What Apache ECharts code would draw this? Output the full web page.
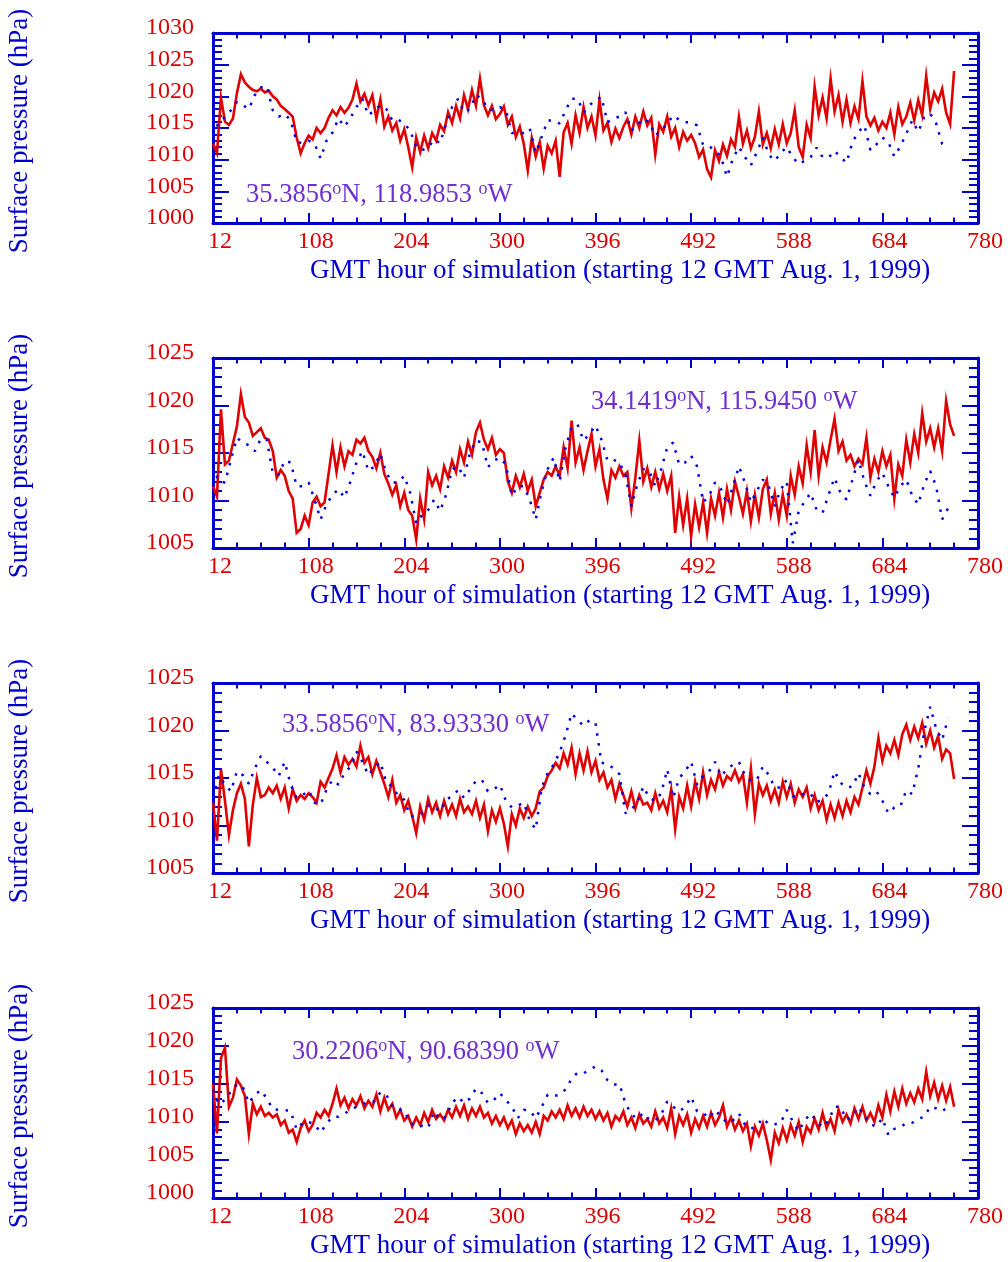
<!DOCTYPE html>
<html>
<head>
<meta charset="utf-8">
<script src="https://cdn.jsdelivr.net/npm/echarts@6/dist/echarts.min.js"></script>
<style>
  html, body { margin: 0; padding: 0; background: #ffffff; }
  #chart { width: 1008px; height: 1262px; }
</style>
</head>
<body>
<div id="chart"></div>
<script>
// Hourly simulation axis: first sample at 12 GMT, observed every 4 h, modelled every 6 h
const START_HOUR = 12;
const END_HOUR = 780;
const HOUR_TICK = 96;
const OBS_STEP = 4;
const MODEL_STEP = 6;

// Station coordinates shown inside each panel
const stationLat = ['35.3856', '34.1419', '33.5856', '30.2206'];
const stationLon = ['118.9853', '115.9450', '83.93330', '90.68390'];

// Pressure range of each panel (hPa)
const yMin = [1000, 1005, 1005, 1000];
const yMax = [1030, 1025, 1025, 1025];

// Observed surface pressure (hPa), 12 GMT onward every 4 h
const obs1 = [
  1012.5, 1011.0, 1019.8, 1016.0, 1015.5, 1016.5, 1020.5, 1023.5, 1022.2, 1021.5,
  1021.0, 1020.8, 1021.2, 1020.6, 1020.9, 1020.0, 1019.5, 1018.5, 1018.0, 1017.4,
  1016.8, 1013.5, 1011.0, 1012.6, 1013.8, 1013.2, 1015.0, 1014.2, 1015.0, 1016.6,
  1017.8, 1017.0, 1018.3, 1017.4, 1018.2, 1019.5, 1022.0, 1019.2, 1020.4, 1018.6,
  1020.2, 1016.5, 1019.5, 1015.2, 1016.8, 1014.6, 1015.8, 1013.0, 1014.8, 1012.0,
  1008.8, 1013.5, 1011.2, 1013.8, 1011.8, 1014.2, 1013.0, 1015.5, 1014.5, 1017.5,
  1015.8, 1018.5, 1016.5, 1020.2, 1018.0, 1021.0, 1018.5, 1022.8, 1018.6, 1017.0,
  1018.5, 1016.4, 1017.2, 1018.4, 1015.5, 1016.8, 1013.6, 1015.2, 1012.5, 1008.3,
  1013.4, 1010.5, 1012.8, 1008.6, 1012.2, 1011.0, 1013.0, 1007.3, 1014.3, 1015.8,
  1012.5, 1017.0, 1014.2, 1018.3, 1015.0, 1016.8, 1013.8, 1019.4, 1014.6, 1015.8,
  1012.8, 1014.9, 1013.4, 1015.2, 1016.4, 1014.0, 1016.8, 1015.0, 1017.6, 1015.4,
  1016.6, 1010.8, 1015.6, 1014.4, 1016.8, 1013.6, 1015.0, 1012.0, 1014.4, 1013.0,
  1013.9, 1012.6, 1010.4, 1011.6, 1008.5, 1007.2, 1011.5, 1009.8, 1012.4, 1010.6,
  1013.2, 1012.0, 1016.8, 1012.5, 1014.6, 1011.8, 1013.6, 1017.6, 1012.4, 1014.2,
  1011.8, 1014.8, 1012.4, 1015.6, 1012.6, 1014.2, 1017.8, 1012.0, 1010.4, 1015.5,
  1013.4, 1021.5, 1017.0, 1019.8, 1016.5, 1022.8, 1017.6, 1020.2, 1016.0, 1019.5,
  1015.8, 1018.4, 1016.4, 1022.4, 1016.8, 1015.4, 1016.6, 1014.6, 1016.0, 1015.0,
  1017.4, 1014.0, 1018.3, 1015.6, 1016.8, 1019.0, 1016.2, 1019.4, 1017.0, 1023.2,
  1018.0, 1020.6, 1019.2, 1021.2, 1017.4, 1015.6, 1024.0
];
const obs2 = [
  1011.5, 1010.4, 1019.6, 1013.8, 1014.2, 1016.0, 1017.8, 1021.2, 1018.8, 1018.2,
  1016.8, 1017.2, 1017.6, 1016.6, 1016.4, 1015.2, 1012.4, 1013.2, 1012.6, 1011.0,
  1010.2, 1006.6, 1007.0, 1008.4, 1007.4, 1009.8, 1010.4, 1009.4, 1009.8, 1012.8,
  1015.8, 1013.0, 1015.6, 1013.6, 1015.2, 1014.8, 1016.4, 1016.0, 1016.6, 1015.2,
  1014.6, 1013.4, 1015.0, 1012.8, 1011.8, 1010.6, 1011.6, 1009.4, 1010.8, 1009.0,
  1008.4, 1005.9, 1010.2, 1008.0, 1013.0, 1011.6, 1012.6, 1011.2, 1013.6, 1012.4,
  1014.2, 1013.0, 1015.4, 1014.0, 1016.2, 1014.8, 1017.2, 1018.2, 1016.4, 1015.4,
  1016.6, 1014.8, 1015.4, 1015.0, 1012.0, 1010.8, 1012.6, 1011.4, 1012.8, 1011.0,
  1012.2, 1009.4, 1010.8, 1012.2, 1013.0, 1012.6, 1013.6, 1012.6, 1015.6, 1013.4,
  1018.4, 1014.0, 1015.6, 1013.2, 1015.2, 1017.0, 1013.6, 1015.4, 1012.2, 1010.2,
  1013.2, 1012.4, 1013.6, 1012.6, 1013.0, 1009.2, 1012.4, 1016.3, 1012.0, 1013.4,
  1011.4, 1013.0, 1011.2, 1012.8, 1011.0, 1012.6, 1006.6, 1010.4, 1007.4, 1010.2,
  1006.2, 1009.6, 1007.2, 1009.8, 1006.6, 1010.2, 1008.4, 1010.8, 1008.2, 1011.2,
  1009.0, 1012.0, 1010.4, 1008.6, 1011.0, 1007.8, 1010.6, 1008.2, 1011.2, 1012.2,
  1008.6, 1010.8, 1008.0, 1010.6, 1008.4, 1012.6, 1010.6, 1013.6, 1011.8, 1015.8,
  1013.0, 1017.4, 1012.6, 1015.6, 1014.0, 1016.4, 1018.6, 1015.2, 1016.2, 1014.2,
  1014.8, 1013.6, 1014.4, 1013.8, 1016.6, 1012.4, 1014.4, 1013.0, 1015.2, 1013.6,
  1014.8, 1010.2, 1013.8, 1012.6, 1016.4, 1014.0, 1017.0, 1015.0, 1019.2, 1016.2,
  1017.6, 1015.6, 1017.6, 1015.2, 1020.5, 1018.0, 1016.8
];
const obs3 = [
  1012.4, 1008.4, 1015.9, 1012.6, 1009.0, 1011.6, 1013.4, 1014.4, 1012.8, 1007.8,
  1012.2, 1015.0, 1013.0, 1013.2, 1014.0, 1013.4, 1014.2, 1012.8, 1014.0, 1011.8,
  1013.8, 1012.6, 1013.2, 1012.8, 1013.4, 1013.0, 1012.4, 1014.6, 1014.0, 1015.0,
  1016.0, 1017.4, 1015.6, 1017.2, 1016.4, 1017.0, 1016.2, 1018.4, 1016.6, 1017.2,
  1015.4, 1016.8, 1015.6, 1014.4, 1013.0, 1014.8, 1012.4, 1013.2, 1011.6, 1012.6,
  1011.0, 1009.2, 1012.0, 1010.6, 1012.8, 1011.4, 1012.4, 1011.0, 1012.6, 1011.2,
  1012.2, 1011.0, 1012.8, 1011.4, 1012.0, 1011.2, 1012.6, 1010.8, 1012.2, 1009.4,
  1011.6, 1010.4, 1011.8, 1010.2, 1007.8, 1011.2, 1010.0, 1011.8, 1010.8, 1012.0,
  1011.0, 1011.8, 1013.6, 1014.0, 1015.2, 1015.8, 1016.6, 1016.0, 1017.6, 1016.4,
  1018.2, 1015.4, 1017.6, 1015.8, 1017.8, 1015.6, 1016.8, 1014.8, 1015.6, 1014.0,
  1014.8, 1012.8, 1014.4, 1013.2, 1012.0, 1013.6, 1011.8, 1013.2, 1012.2, 1012.4,
  1011.6, 1013.4, 1011.8, 1012.6, 1011.4, 1013.8, 1009.6, 1013.0, 1011.8, 1014.2,
  1012.0, 1014.6, 1012.8, 1015.6, 1013.2, 1014.8, 1013.8, 1015.6, 1014.2, 1015.2,
  1014.8, 1015.8, 1014.6, 1015.4, 1012.4, 1016.0, 1011.2, 1014.4, 1013.2, 1014.2,
  1012.6, 1013.8, 1012.4, 1014.6, 1013.0, 1014.4, 1012.4, 1013.8, 1013.0, 1014.0,
  1011.8, 1013.2, 1011.6, 1012.6, 1010.6, 1012.2, 1010.8, 1012.4, 1011.0, 1012.6,
  1011.4, 1013.0, 1012.2, 1014.0, 1015.8, 1014.4, 1016.2, 1019.2, 1016.8, 1018.4,
  1017.6, 1019.0, 1017.4, 1019.6, 1020.6, 1019.0, 1020.4, 1019.2, 1020.8, 1018.6,
  1020.0, 1018.2, 1019.4, 1017.0, 1018.0, 1017.6, 1014.9
];
const obs4 = [
  1015.0, 1008.5, 1018.4, 1019.8, 1012.0, 1013.2, 1015.6, 1014.8, 1013.4, 1008.4,
  1012.4, 1011.0, 1012.0, 1010.8, 1011.2, 1010.6, 1011.0, 1009.6, 1010.2, 1008.6,
  1009.0, 1007.4, 1009.2, 1010.2, 1008.8, 1009.6, 1011.2, 1010.6, 1011.6, 1010.8,
  1012.4, 1014.4, 1012.2, 1013.2, 1011.8, 1013.0, 1012.2, 1013.4, 1011.8, 1012.8,
  1012.0, 1013.6, 1011.4, 1013.2, 1011.6, 1012.4, 1010.6, 1011.6, 1010.2, 1010.8,
  1009.4, 1010.6, 1009.6, 1011.2, 1010.0, 1011.6, 1010.4, 1011.0, 1010.2, 1011.6,
  1010.6, 1012.0, 1010.8, 1012.2, 1010.4, 1011.8, 1010.8, 1012.0, 1010.6, 1011.2,
  1009.8, 1010.8, 1009.6, 1010.6, 1009.2, 1010.2, 1008.4, 1009.8, 1008.8, 1009.6,
  1008.6, 1010.0, 1008.4, 1010.8, 1010.2, 1011.4, 1010.6, 1011.6, 1010.4, 1012.2,
  1010.8, 1011.8, 1010.6, 1012.0, 1010.8, 1011.6, 1010.4, 1011.4, 1010.2, 1011.2,
  1009.4, 1010.8, 1010.2, 1011.4, 1009.6, 1010.6, 1009.2, 1011.0, 1009.8, 1010.4,
  1009.4, 1011.4, 1009.8, 1010.6, 1009.2, 1011.8, 1008.4, 1010.8, 1009.6, 1011.0,
  1008.6, 1010.4, 1009.2, 1010.8, 1009.4, 1011.2, 1009.6, 1010.6, 1012.2, 1009.4,
  1010.6, 1009.0, 1010.2, 1008.8, 1009.8, 1006.8, 1009.4, 1008.2, 1009.8, 1007.6,
  1005.0, 1008.6, 1007.2, 1009.2, 1007.6, 1009.6, 1008.2, 1010.0, 1007.4, 1009.4,
  1008.6, 1010.4, 1009.0, 1011.2, 1009.2, 1010.4, 1008.8, 1011.6, 1010.0, 1011.0,
  1009.8, 1011.8, 1010.4, 1012.0, 1010.2, 1011.2, 1010.0, 1012.2, 1010.6, 1013.6,
  1011.4, 1014.0, 1012.0, 1014.4, 1012.4, 1013.8, 1012.6, 1014.4, 1013.0, 1016.6,
  1013.4, 1015.2, 1013.0, 1014.8, 1012.8, 1014.6, 1012.0
];

// Simulated surface pressure (hPa), 12 GMT onward every 6 h
const model1 = [
  1013.8, 1016.0, 1016.7, 1017.8, 1019.1, 1018.6, 1018.0, 1020.2, 1021.4, 1021.6,
  1017.8, 1016.8, 1017.2, 1016.2, 1012.8, 1012.6, 1013.0, 1012.5, 1010.2, 1013.0,
  1014.3, 1016.5, 1015.2, 1016.6, 1018.3, 1019.6, 1017.0, 1017.8, 1018.6, 1018.0,
  1016.2, 1016.3, 1015.7, 1014.6, 1012.0, 1011.5, 1011.9, 1013.2, 1012.6, 1015.7,
  1018.3, 1019.6, 1017.5, 1018.0, 1020.2, 1019.6, 1018.0, 1017.8, 1018.3, 1017.8,
  1014.2, 1014.2, 1014.2, 1014.9, 1011.1, 1013.6, 1016.2, 1016.2, 1015.7, 1017.8,
  1019.6, 1019.6, 1017.5, 1018.6, 1019.4, 1019.9, 1015.9, 1016.5, 1016.8, 1017.5,
  1014.6, 1015.4, 1016.5, 1015.9, 1013.8, 1014.6, 1015.7, 1017.0, 1016.3, 1015.9,
  1015.9, 1015.4, 1012.3, 1012.1, 1011.5, 1010.4, 1007.3, 1010.2, 1012.0, 1010.4,
  1009.1, 1011.2, 1013.5, 1010.8, 1009.8, 1011.1, 1012.0, 1010.4, 1009.3, 1009.8,
  1010.4, 1011.9, 1010.4, 1010.3, 1011.4, 1010.4, 1009.5, 1012.8, 1014.4, 1015.4,
  1011.5, 1012.4, 1013.5, 1012.8, 1010.5, 1012.1, 1014.1, 1016.2, 1014.4, 1016.7,
  1017.3, 1015.7, 1012.5, 1011.9
];
const model2 = [
  1013.6, 1012.0, 1011.9, 1014.3, 1016.6, 1016.1, 1015.8, 1015.2, 1016.5, 1016.4,
  1012.9, 1012.7, 1014.2, 1014.0, 1011.5, 1011.5, 1011.9, 1010.1, 1008.0, 1009.6,
  1010.6, 1011.2, 1010.3, 1012.0, 1014.0, 1015.2, 1013.1, 1013.6, 1014.9, 1012.9,
  1011.9, 1011.9, 1012.6, 1010.8, 1007.6, 1008.5, 1009.0, 1010.1, 1008.9, 1010.6,
  1013.3, 1013.6, 1012.4, 1015.0, 1016.3, 1016.1, 1013.5, 1014.2, 1014.5, 1013.8,
  1010.5, 1011.5, 1011.5, 1010.1, 1008.0, 1011.0, 1013.3, 1014.5, 1012.0, 1015.6,
  1017.7, 1018.0, 1016.3, 1017.0, 1017.9, 1016.4, 1014.2, 1014.3, 1014.0, 1012.7,
  1009.4, 1011.7, 1013.3, 1013.1, 1011.5, 1013.3, 1015.6, 1016.1, 1013.8, 1014.0,
  1014.7, 1013.6, 1009.8, 1010.5, 1011.9, 1011.2, 1009.6, 1011.5, 1013.6, 1011.9,
  1009.8, 1011.0, 1012.2, 1011.5, 1009.4, 1011.2, 1012.0, 1005.5, 1008.9, 1009.9,
  1010.8, 1009.0, 1008.7, 1010.6, 1012.4, 1010.8, 1010.1, 1012.2, 1014.3, 1012.0,
  1010.5, 1012.0, 1012.9, 1011.5, 1010.3, 1011.5, 1012.2, 1010.5, 1009.6, 1011.7,
  1013.1, 1011.5, 1008.0, 1009.2
];
const model3 = [
  1012.9, 1015.3, 1014.3, 1013.6, 1015.7, 1015.3, 1014.4, 1016.0, 1017.3, 1016.7,
  1016.1, 1015.2, 1016.7, 1014.3, 1012.9, 1013.2, 1013.7, 1012.4, 1012.2, 1013.8,
  1014.8, 1014.3, 1015.5, 1016.2, 1017.8, 1016.7, 1015.3, 1016.1, 1016.7, 1014.5,
  1014.1, 1013.1, 1012.7, 1011.0, 1011.0, 1011.3, 1012.1, 1011.9, 1011.5, 1012.7,
  1013.1, 1013.7, 1012.9, 1013.8, 1014.7, 1014.8, 1013.6, 1013.8, 1014.3, 1012.6,
  1011.9, 1012.1, 1012.4, 1010.5, 1009.6, 1014.0, 1015.5, 1016.4, 1017.7, 1019.5,
  1021.8, 1021.1, 1020.5, 1021.1, 1020.8, 1016.6, 1016.5, 1016.0, 1015.4, 1011.3,
  1011.7, 1012.4, 1014.1, 1012.9, 1012.6, 1013.4, 1015.9, 1012.9, 1015.0, 1015.7,
  1016.7, 1014.3, 1015.2, 1015.7, 1016.7, 1015.2, 1015.9, 1016.4, 1016.7, 1015.3,
  1014.7, 1014.8, 1016.2, 1015.3, 1014.0, 1014.0, 1014.8, 1013.1, 1013.0, 1013.4,
  1013.3, 1012.5, 1012.7, 1013.4, 1015.7, 1014.5, 1014.0, 1014.1, 1015.5, 1014.0,
  1013.3, 1013.6, 1012.6, 1011.3, 1011.9, 1012.0, 1013.7, 1013.3, 1016.0, 1019.9,
  1022.5, 1020.2, 1019.0, 1021.3
];
const model4 = [
  1014.2, 1012.3, 1012.9, 1014.0, 1015.0, 1014.6, 1012.5, 1013.6, 1014.2, 1013.1,
  1011.7, 1011.6, 1011.6, 1011.4, 1009.0, 1009.9, 1010.0, 1009.7, 1008.6, 1009.8,
  1010.7, 1010.7, 1011.1, 1011.6, 1012.0, 1012.3, 1012.7, 1012.7, 1013.9, 1013.6,
  1012.0, 1011.7, 1011.5, 1009.9, 1009.4, 1009.5, 1009.2, 1011.4, 1010.3, 1010.7,
  1012.5, 1013.3, 1012.5, 1013.1, 1014.4, 1013.8, 1012.5, 1012.9, 1013.8, 1012.9,
  1012.0, 1010.5, 1011.6, 1011.5, 1010.5, 1012.0, 1013.6, 1013.4, 1013.6, 1014.3,
  1015.7, 1016.5, 1016.4, 1016.9, 1017.3, 1016.8, 1015.5, 1014.9, 1015.0, 1012.5,
  1011.0, 1010.4, 1011.2, 1010.3, 1010.2, 1011.0, 1012.7, 1012.0, 1011.4, 1012.0,
  1013.3, 1011.4, 1011.2, 1010.5, 1011.6, 1010.7, 1009.9, 1010.2, 1011.1, 1009.7,
  1009.1, 1009.5, 1010.5, 1009.7, 1009.7, 1009.9, 1011.6, 1010.1, 1008.8, 1010.2,
  1011.1, 1010.1, 1009.3, 1010.2, 1012.0, 1012.0, 1010.3, 1010.8, 1012.0, 1010.7,
  1009.7, 1009.4, 1010.5, 1008.3, 1009.1, 1009.3, 1009.9, 1009.9, 1010.4, 1010.7,
  1012.0, 1011.8, 1011.4, 1012.0
];

const observed = [obs1, obs2, obs3, obs4];
const simulated = [model1, model2, model3, model4];

// Text
const xTitle = 'GMT hour of simulation (starting 12 GMT Aug. 1, 1999)';
const yTitle = 'Surface pressure (hPa)';

// Layout and styling
const FONT = '"Liberation Serif", "Times New Roman", serif';
const FRAME_BLUE = '#0000cc';
const TITLE_BLUE = '#0000cc';
const LABEL_RED = '#dd0000';
const OBS_RED = '#e00000';
const MODEL_BLUE = '#0000e0';
const NOTE_PURPLE = '#7030d0';
const PLOT_LEFT = 213;
const PLOT_WIDTH = 765;
const PLOT_HEIGHT = 190;
const PANEL_TOP = [33, 358, 683, 1008];
const NOTE_POS = [[246, 195], [591, 402], [282, 725], [292, 1052]];

// x values are hours elapsed since the first sample, so ticks start at 12 GMT
function series(values, step) {
  return values.map((v, k) => [k * step, v]);
}

const chart = echarts.init(document.getElementById('chart'), null, { renderer: 'canvas' });

const grids = [], xAxes = [], yAxes = [], allSeries = [], graphics = [];

const frameLine = { show: true, onZero: false, lineStyle: { color: FRAME_BLUE, width: 3 } };

for (let i = 0; i < 4; i++) {
  grids.push({ left: PLOT_LEFT, top: PANEL_TOP[i], width: PLOT_WIDTH, height: PLOT_HEIGHT });

  const xCommon = {
    type: 'value', gridIndex: i,
    min: 0, max: END_HOUR - START_HOUR, interval: HOUR_TICK,
    axisLine: frameLine,
    axisTick: { show: true, inside: true, length: 10, lineStyle: { color: FRAME_BLUE, width: 2 } },
    minorTick: { show: true, splitNumber: 4, length: 5.5, lineStyle: { color: FRAME_BLUE, width: 2 } },
    splitLine: { show: false }, minorSplitLine: { show: false }
  };
  xAxes.push(Object.assign({}, xCommon, {
    position: 'bottom',
    axisLabel: {
      show: true, formatter: v => String(v + START_HOUR),
      color: LABEL_RED, fontFamily: FONT, fontSize: 24, lineHeight: 24,
      margin: 7, padding: [0, 0, 0, 14]
    }
  }));
  xAxes.push(Object.assign({}, xCommon, { position: 'top', axisLabel: { show: false } }));

  const yCommon = {
    type: 'value', gridIndex: i,
    min: yMin[i], max: yMax[i], interval: 5,
    axisLine: frameLine,
    axisTick: { show: true, inside: true, length: 16, lineStyle: { color: FRAME_BLUE, width: 2 } },
    minorTick: { show: true, splitNumber: 5, length: 9, lineStyle: { color: FRAME_BLUE, width: 2 } },
    splitLine: { show: false }, minorSplitLine: { show: false }
  };
  yAxes.push(Object.assign({}, yCommon, {
    position: 'left',
    axisLabel: {
      show: true, formatter: v => String(v),
      color: LABEL_RED, fontFamily: FONT, fontSize: 24,
      margin: 19, verticalAlign: 'bottom', lineHeight: 10
    }
  }));
  yAxes.push(Object.assign({}, yCommon, { position: 'right', axisLabel: { show: false } }));

  allSeries.push({
    type: 'line', name: 'observed ' + (i + 1),
    xAxisIndex: 2 * i, yAxisIndex: 2 * i,
    data: series(observed[i], OBS_STEP),
    showSymbol: false, symbol: 'none', animation: false, z: 2,
    lineStyle: { color: OBS_RED, width: 2.6, join: 'miter' }
  });
  allSeries.push({
    type: 'line', name: 'simulated ' + (i + 1),
    xAxisIndex: 2 * i, yAxisIndex: 2 * i,
    data: series(simulated[i], MODEL_STEP),
    showSymbol: false, symbol: 'none', animation: false, z: 3,
    lineStyle: { color: MODEL_BLUE, width: 2.5, type: [2.5, 7.5], cap: 'butt' }
  });

  const bottom = PANEL_TOP[i] + PLOT_HEIGHT;

  // Axis titles
  graphics.push({
    type: 'text', x: 310, y: bottom + 48,
    style: { text: xTitle, font: '27px ' + FONT, fill: TITLE_BLUE,
             align: 'left', verticalAlign: 'middle', textAlign: 'left', textVerticalAlign: 'middle' }
  });
  graphics.push({
    type: 'text', x: 20, y: PANEL_TOP[i] + 98, rotation: Math.PI / 2,
    style: { text: yTitle, font: '27px ' + FONT, fill: TITLE_BLUE,
             align: 'center', verticalAlign: 'middle', textAlign: 'center', textVerticalAlign: 'middle' }
  });

  // Station location with superscript degree marks
  graphics.push({
    type: 'text', x: NOTE_POS[i][0], y: NOTE_POS[i][1], z: 10,
    style: {
      text: '{m|' + stationLat[i] + '}{s|o}{m|N, ' + stationLon[i] + ' }{s|o}{m|W}',
      fill: NOTE_PURPLE, align: 'left', verticalAlign: 'middle',
      textAlign: 'left', textVerticalAlign: 'middle',
      rich: {
        m: { fontFamily: FONT, fontSize: 26.5, lineHeight: 30, fill: NOTE_PURPLE, color: NOTE_PURPLE },
        s: { fontFamily: FONT, fontSize: 18, lineHeight: 16, verticalAlign: 'top', fill: NOTE_PURPLE, color: NOTE_PURPLE }
      }
    }
  });
}

chart.setOption({
  backgroundColor: '#ffffff',
  animation: false,
  grid: grids,
  xAxis: xAxes,
  yAxis: yAxes,
  series: allSeries,
  graphic: { elements: graphics }
});
</script>
</body>
</html>
